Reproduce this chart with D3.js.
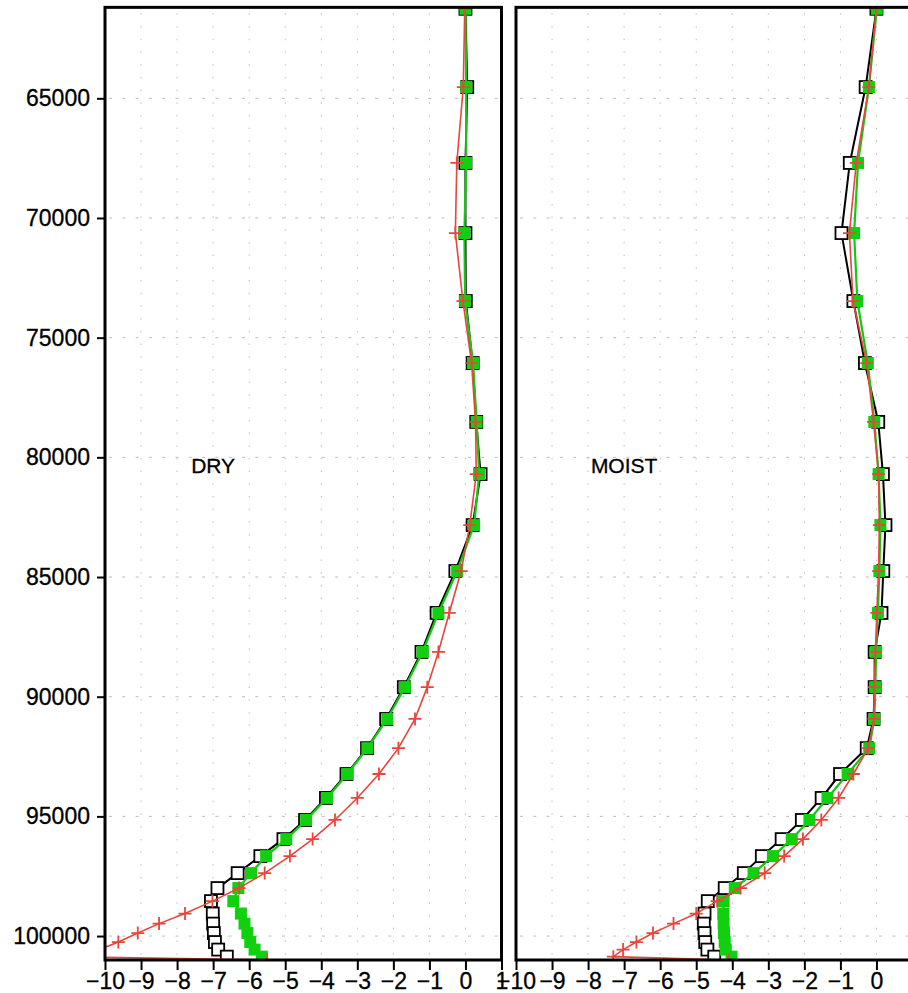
<!DOCTYPE html>
<html>
<head>
<meta charset="utf-8">
<script src="https://cdn.jsdelivr.net/npm/d3@7"></script>
<style>
  body { margin: 0; background: #fff; }
  svg { display: block; font-family: "Liberation Sans", Arial, Helvetica, sans-serif; }
</style>
</head>
<body>
<div id="chart"></div>
<script>
// model levels (Pa), shared by the black and green curves
const levels = [61260, 64530, 67700, 70630, 73470, 76060, 78520, 80700, 82830, 84750,
    86500, 88130, 89600, 90930, 92150, 93230, 94230, 95150, 95950, 96660,
    97370, 97995, 98540, 99060, 99480, 99875, 100250, 100565, 100860];
// the red curve has one extra point at the surface
const surfacePressure = 101000;
const redLevels = levels.concat([surfacePressure]);

// DRY panel
const dryBlack = [0.0, 0.05, 0.0, 0.0, 0.01, 0.2, 0.3, 0.42, 0.2, -0.28,
    -0.8, -1.22, -1.71, -2.2, -2.73, -3.3, -3.87, -4.45, -5.05, -5.69,
    -6.32, -6.88, -7.06, -7.01, -7.0, -6.98, -6.95, -6.86, -6.62];
const dryGreen = [0.0, 0.02, 0.02, -0.03, -0.01, 0.21, 0.31, 0.38, 0.24, -0.23,
    -0.75, -1.19, -1.68, -2.17, -2.72, -3.28, -3.84, -4.42, -4.97, -5.53,
    -5.95, -6.3, -6.44, -6.23, -6.13, -6.05, -5.97, -5.85, -5.65];
const dryRed = [-0.02, -0.06, -0.24, -0.28, -0.07, 0.17, 0.28, 0.3, 0.12, -0.12,
    -0.45, -0.75, -1.06, -1.4, -1.86, -2.4, -3.0, -3.62, -4.24, -4.87,
    -5.57, -6.28, -7.02, -7.78, -8.5, -9.09, -9.63, -10.15, -11.3, -5.5];

// MOIST panel
const moistBlack = [0.0, -0.3, -0.74, -0.97, -0.64, -0.32, 0.05, 0.18, 0.25, 0.19,
    0.14, -0.05, -0.05, -0.08, -0.27, -1.01, -1.52, -2.07, -2.63, -3.18,
    -3.68, -4.21, -4.68, -4.77, -4.79, -4.77, -4.75, -4.69, -4.5];
const moistGreen = [0.01, -0.21, -0.51, -0.62, -0.53, -0.24, -0.06, 0.06, 0.11, 0.08,
    0.04, -0.01, -0.03, -0.06, -0.2, -0.8, -1.36, -1.86, -2.35, -2.87,
    -3.41, -3.93, -4.24, -4.25, -4.24, -4.23, -4.21, -4.18, -4.02];
const moistRed = [0.0, -0.21, -0.56, -0.75, -0.65, -0.27, -0.08, 0.06, 0.08, 0.06,
    0.01, -0.03, -0.06, -0.07, -0.23, -0.64, -1.05, -1.53, -2.04, -2.56,
    -3.1, -3.77, -4.42, -5.0, -5.63, -6.2, -6.66, -7.03, -7.3, -4.1];

const panelNames = ["DRY", "MOIST"];
const xTicks = [-10, -9, -8, -7, -6, -5, -4, -3, -2, -1, 0, 1];
const yTicks = [65000, 70000, 75000, 80000, 85000, 90000, 95000, 100000];
const xDomain = [-10, 1];
const yDomain = [61200, 101000];
const labelPos = [-7, 80350];

const panels = [
    {name: panelNames[0], black: dryBlack, green: dryGreen, red: dryRed},
    {name: panelNames[1], black: moistBlack, green: moistGreen, red: moistRed},
];

// layout
const WIDTH = 908, HEIGHT = 993;
const PLOT_TOP = 7.35, PLOT_BOTTOM = 960;
const PANEL_WIDTH = 396.5;
const PANEL_LEFTS = [105, 516];
const FONT_SIZE = 23;
const SQ = 12;

const svg = d3.select("#chart")
    .append("svg")
    .attr("width", WIDTH)
    .attr("height", HEIGHT);

const xScale = d3.scaleLinear().domain(xDomain).range([0, PANEL_WIDTH]);
const yScale = d3.scaleLinear().domain(yDomain).range([PLOT_TOP, PLOT_BOTTOM]);

const line = d3.line()
    .x(d => xScale(d[0]))
    .y(d => yScale(d[1]));

panels.forEach((panel, i) => {
    const g = svg.append("g")
        .attr("transform", `translate(${PANEL_LEFTS[i]},0)`);

    // clip for the data
    const clipId = `clip${i}`;
    g.append("clipPath").attr("id", clipId)
        .append("rect")
        .attr("x", 0).attr("y", PLOT_TOP)
        .attr("width", PANEL_WIDTH).attr("height", PLOT_BOTTOM - PLOT_TOP);

    // grid
    g.append("g").selectAll("line")
        .data(xTicks.slice(1, -1))
        .join("line")
        .attr("x1", d => xScale(d)).attr("x2", d => xScale(d))
        .attr("y1", PLOT_TOP + 6).attr("y2", PLOT_BOTTOM)
        .attr("stroke", "#bdbdbd")
        .attr("stroke-width", 1)
        .attr("stroke-dasharray", "1.5,11.2");
    g.append("g").selectAll("line")
        .data(yTicks)
        .join("line")
        .attr("x1", 4).attr("x2", PANEL_WIDTH)
        .attr("y1", d => yScale(d)).attr("y2", d => yScale(d))
        .attr("stroke", "#bdbdbd")
        .attr("stroke-width", 1)
        .attr("stroke-dasharray", "3,10.3");

    const data = g.append("g").attr("clip-path", `url(#${clipId})`);

    const blackPts = panel.black.map((v, k) => [v, levels[k]]);
    const greenPts = panel.green.map((v, k) => [v, levels[k]]);
    const redPts = panel.red.map((v, k) => [v, redLevels[k]]);

    // black curve, open squares
    data.append("path")
        .attr("d", line(blackPts))
        .attr("fill", "none")
        .attr("stroke", "#000")
        .attr("stroke-width", 2);
    data.append("g").selectAll("rect")
        .data(blackPts)
        .join("rect")
        .attr("x", d => xScale(d[0]) - SQ / 2)
        .attr("y", d => yScale(d[1]) - SQ / 2)
        .attr("width", SQ).attr("height", SQ)
        .attr("fill", "#fff")
        .attr("stroke", "#000")
        .attr("stroke-width", 1.8);

    // green curve, filled squares
    data.append("path")
        .attr("d", line(greenPts))
        .attr("fill", "none")
        .attr("stroke", "#14c814")
        .attr("stroke-width", 2.2);
    data.append("g").selectAll("rect")
        .data(greenPts)
        .join("rect")
        .attr("x", d => xScale(d[0]) - SQ / 2)
        .attr("y", d => yScale(d[1]) - SQ / 2)
        .attr("width", SQ).attr("height", SQ)
        .attr("fill", "#10d010");

    // red curve, plus markers
    data.append("path")
        .attr("d", line(redPts))
        .attr("fill", "none")
        .attr("stroke", "#e8453c")
        .attr("stroke-width", 1.6);
    data.append("g").selectAll("path")
        .data(redPts)
        .join("path")
        .attr("d", d => {
            const cx = xScale(d[0]), cy = yScale(d[1]);
            return `M${cx - 6.5},${cy}H${cx + 6.5}M${cx},${cy - 6.5}V${cy + 6.5}`;
        })
        .attr("stroke", "#e8453c")
        .attr("stroke-width", 1.8);

    // panel label
    g.append("text")
        .attr("x", xScale(labelPos[0]))
        .attr("y", yScale(labelPos[1]))
        .attr("dy", "0.35em")
        .attr("text-anchor", "middle")
        .attr("font-size", 21)
        .attr("stroke", "#000")
        .attr("stroke-width", 0.3)
        .text(panel.name);

    // frame
    g.append("rect")
        .attr("x", 0).attr("y", PLOT_TOP)
        .attr("width", PANEL_WIDTH).attr("height", PLOT_BOTTOM - PLOT_TOP)
        .attr("fill", "none")
        .attr("stroke", "#000")
        .attr("stroke-width", 3);

    // X axis (the right panel's last label falls outside the page)
    const xAxis = g.append("g")
        .attr("transform", `translate(0,${PLOT_BOTTOM})`)
        .call(d3.axisBottom(xScale)
            .tickValues(i === 0 ? xTicks : xTicks.slice(0, -1))
            .tickFormat(d3.format("d"))
            .tickSize(10)
            .tickPadding(3));
    xAxis.select(".domain").remove();
    xAxis.selectAll("line").attr("stroke-width", 2);
    xAxis.attr("font-size", FONT_SIZE).attr("font-family", null);
    xAxis.selectAll("text")
        .attr("fill", "#000")
        .attr("stroke", "#000")
        .attr("stroke-width", 0.3);

    // Y axis only on the first panel
    if (i === 0) {
        const yAxis = g.append("g")
            .call(d3.axisLeft(yScale)
                .tickValues(yTicks)
                .tickFormat(d3.format("d"))
                .tickSize(8)
                .tickPadding(7));
        yAxis.select(".domain").remove();
        yAxis.selectAll("line").attr("stroke-width", 2);
        yAxis.attr("font-size", FONT_SIZE).attr("font-family", null);
        yAxis.selectAll("text")
            .attr("fill", "#000")
            .attr("stroke", "#000")
            .attr("stroke-width", 0.3);
    }
});
</script>
</body>
</html>
